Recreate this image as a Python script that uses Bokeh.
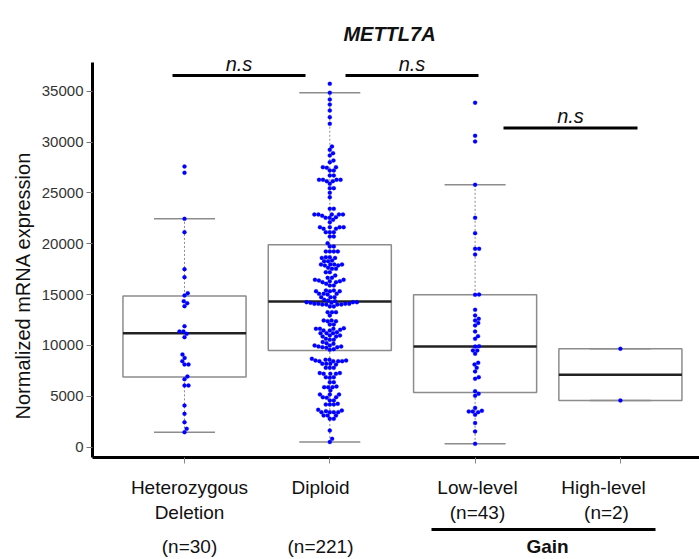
import numpy as np
from bokeh.plotting import figure
from bokeh.layouts import column
from bokeh.models import Range1d, FixedTicker, Title
from bokeh.core.properties import value
from bokeh.embed import file_html
from bokeh.resources import INLINE

# ---------------- data ----------------
group_pos = [1, 2, 3, 4]
label_line1 = ["Heterozygous", "Diploid", "Low-level", "High-level"]
label_line2 = ["Deletion", "", "(n=43)", "(n=2)"]
label_n_low = ["(n=30)", "(n=221)", "", ""]
title = "METTL7A"
y_label = "Normalized mRNA expression"
y_ticks = [0, 5000, 10000, 15000, 20000, 25000, 30000, 35000]

het = [27600, 26980, 22450, 21140, 17500, 16710, 15140, 14910, 14350, 14150,
       13860, 11890, 11370, 11370, 11140, 10810, 9100, 8770, 8450, 8120,
       8120, 6940, 6670, 6050, 6050, 4080, 3260, 2440, 1790, 1460]

dip = [35740, 34850, 34190, 33700, 33110, 32460, 31800, 29570, 29240, 28910,
       28680, 28190, 28030, 27540, 27470, 27540, 27210, 27210, 26720, 26720,
       26290, 26290, 26290, 26290, 26160, 26160, 25900, 25470, 25470, 25010,
       24580, 23440, 23440, 22880, 22880, 22880, 22880, 22880, 22750, 22550,
       22350, 22550, 22620, 22120, 21630, 21630, 21630, 21630, 21470, 21470,
       21140, 21140, 21140, 20710, 20710, 20060, 19730, 19730,
       19240, 19240, 19240, 19240, 18680, 18680, 18610, 18610, 18350, 18290,
       18290, 17960, 17960, 17960, 17960, 17860, 17860, 17530, 17530, 17630,
       17200, 17200, 16880,
       16650, 16450, 16380, 16320, 16220, 16060, 16220, 16320, 16450, 16650,
       15890, 15890, 15400, 15400, 15330, 15330, 15330, 15070, 15070, 15070,
       15010, 14740, 14740, 14740,
       14480, 14250, 14250, 14190, 14250, 14350, 14420, 14190,
       14090, 14090, 14090, 14090, 14020, 14020, 14020, 14020, 13830, 13830,
       13270, 13270, 13270, 12940, 12450, 12450, 12380, 12380, 12050, 12050,
       11630, 11530, 11460, 11460, 11630, 11630, 11690,
       11300, 11200, 11200, 11200, 10970, 10970, 10870, 10870, 10640, 10550,
       10550,
       10320, 10150, 9990, 9890, 9820, 9760, 9820, 9890, 9990, 10220,
       9630, 9560,
       8580, 8510, 8450, 8450, 8450, 8450, 8510, 8580, 8680,
       8180, 8120, 8180, 8180, 7790, 7790, 7790, 7270, 7200, 7200,
       7200, 7270, 6870, 6810, 6870, 6380, 6380, 5950, 5890, 5890,
       5890, 5560, 5170, 5170, 5170, 4840, 4900, 4900, 4580, 4580,
       4180, 4180, 4180, 4250,
       3660, 3430, 3430, 3430, 3430, 3530, 3590, 3100, 3100, 3100,
       2770, 2770, 1620, 800, 480]

low = [33870, 30620, 30060, 25800, 22550, 21040, 19500, 19500, 18940, 14970,
       15000, 13500, 12940, 12610, 12450, 12200, 11960, 11370, 10910, 10640,
       9920, 9890, 9500, 9500, 9170, 8280, 8120, 7790, 7430, 6870,
       6710, 5490, 5230, 5040, 3850, 3490, 3430, 3490, 3560, 3170,
       2350, 1530, 310]

high = [9660, 4580]

series = [het, dip, low, high]

# box statistics
box_q1 = [6890, 9500, 5360, 4580]
box_med = [11190, 14320, 9890, 7120]
box_q3 = [14870, 19900, 14970, 9660]
whisk_lo = [1440, 480, 310, 4580]
whisk_hi = [22450, 34850, 25800, 9660]

# ---------------- layout ----------------
W, H = 699, 559
FL, FR, FT, FB = 92, 699, 0, 457          # main frame edges (page px)
H1 = 469                                   # height of main figure
X0, X1 = 0.3668, 4.5444
Y0, YT = -1033, 43936
AXIS_TOP = 37835                           # where the drawn y axis ends
px_x = (FR - FL) / (X1 - X0)
px_y = (FB - FT) / (YT - Y0)
FONT = "Liberation Sans"
INK = "#111111"


def xdat(page_x):
    return X0 + (page_x - FL) / px_x


def ydat(page_y):
    return YT - (page_y - FT) / px_y


def swarm(vals, d=4.0):
    ys = np.asarray(vals, float) * px_y
    xs = np.zeros(len(ys))
    order = np.argsort(ys, kind="stable")
    placed = []
    for i in order:
        y = ys[i]
        near = [(xs[j], ys[j]) for j in placed if abs(ys[j] - y) < d]
        cands = [0.0]
        for xj, yj in near:
            dx = np.sqrt(max(d * d - (yj - y) ** 2, 0))
            cands += [xj + dx, xj - dx]
        cands.sort(key=lambda c: (round(abs(c), 6), -c))
        for c in cands:
            if all((c - xj) ** 2 + (yj - y) ** 2 >= d * d - 1e-6 for xj, yj in near):
                xs[i] = c
                break
        placed.append(i)
    return xs / px_x


xr = Range1d(X0, X1)
p = figure(width=W, height=H1, x_range=xr, y_range=Range1d(Y0, YT),
           output_backend="svg", toolbar_location=None,
           min_border_left=FL, min_border_right=W - FR,
           min_border_top=FT, min_border_bottom=H1 - FB)
p.outline_line_color = None
p.grid.visible = False

# axes
p.yaxis.bounds = (Y0, AXIS_TOP)
p.yaxis.ticker = FixedTicker(ticks=y_ticks)
p.yaxis.axis_line_width = 3
p.yaxis.axis_line_color = "black"
p.yaxis.major_tick_out = 6
p.yaxis.major_tick_in = 0
p.yaxis.minor_tick_out = 0
p.yaxis.minor_tick_in = 0
p.yaxis.major_tick_line_color = "#777777"
p.yaxis.major_label_text_font = FONT
p.yaxis.major_label_text_font_size = "15px"
p.yaxis.major_label_text_color = "#333333"
p.yaxis.major_label_standoff = 3

p.add_layout(Title(text=y_label, align="left", offset=38, text_font=FONT,
                   text_font_style="normal", text_font_size="20px",
                   text_color=INK, standoff=9), "left")

p.xaxis.ticker = FixedTicker(ticks=group_pos)
p.xaxis.axis_line_width = 3
p.xaxis.axis_line_color = "black"
p.xaxis.major_tick_out = 6
p.xaxis.major_tick_in = 0
p.xaxis.minor_tick_out = 0
p.xaxis.minor_tick_in = 0
p.xaxis.major_tick_line_color = "#888888"
p.xaxis.major_label_text_font_size = "0px"
p.xaxis.major_label_standoff = 0

BOX_W = 0.847
CAP_W = 0.42
GREY = "#8c8c8c"

pos = np.array(group_pos, float)
p.quad(left=pos - BOX_W / 2, right=pos + BOX_W / 2, bottom=box_q1, top=box_q3,
       fill_color=None, line_color=GREY, line_width=1.5)
p.segment(x0=pos, y0=box_q3, x1=pos, y1=whisk_hi, line_color=GREY, line_width=1,
          line_dash="2 2")
p.segment(x0=pos, y0=whisk_lo, x1=pos, y1=box_q1, line_color=GREY, line_width=1,
          line_dash="2 2")
p.segment(x0=pos - CAP_W / 2, y0=whisk_hi, x1=pos + CAP_W / 2, y1=whisk_hi,
          line_color=GREY, line_width=1.5)
p.segment(x0=pos - CAP_W / 2, y0=whisk_lo, x1=pos + CAP_W / 2, y1=whisk_lo,
          line_color=GREY, line_width=1.5)
p.segment(x0=pos - BOX_W / 2, y0=box_med, x1=pos + BOX_W / 2, y1=box_med,
          line_color="#222222", line_width=2.5)

xs_all, ys_all = [], []
for g, vals in zip(group_pos, series):
    off = swarm(vals)
    xs_all += list(g + off)
    ys_all += list(vals)
p.scatter(x=xs_all, y=ys_all, size=4, fill_color="#0000ff", line_color="#0000ff",
          line_width=0.3)

# significance brackets
brackets = [(xdat(172), xdat(305), 75),
            (xdat(345), xdat(478), 75),
            (xdat(503), xdat(637), 127.5)]
for xa, xb, yb in brackets:
    p.segment(x0=[xa], y0=[ydat(yb)], x1=[xb], y1=[ydat(yb)], line_color="black",
              line_width=3)
    p.text(x=[(xa + xb) / 2], y=[ydat(yb - 12)], text=["n.s"], text_font=value(FONT),
           text_font_style="italic", text_font_size="20px", text_align="center",
           text_baseline="middle", text_color=INK)

# title
p.text(x=[xdat(389)], y=[ydat(33)], text=[title], text_font=value(FONT),
       text_font_style="bold italic", text_font_size="20px", text_align="center",
       text_baseline="middle", text_color=INK)

# ---------------- category labels strip ----------------
q = figure(width=W, height=H - H1, x_range=xr, y_range=Range1d(H, H1),
           output_backend="svg", toolbar_location=None,
           x_axis_location=None, y_axis_location=None,
           min_border_left=FL, min_border_right=W - FR,
           min_border_top=0, min_border_bottom=0)
q.outline_line_color = None
q.grid.visible = False

label_x = [189, 320, 477, 603]
label_x2 = [189, 320, 477, 606]
for i in range(4):
    for txt, xx, yy in ((label_line1[i], label_x[i], 487),
                        (label_line2[i], label_x2[i], 512),
                        (label_n_low[i], label_x[i], 546)):
        if txt:
            q.text(x=[xdat(xx)], y=[yy], text=[txt], text_font=value(FONT),
                   text_font_size="19px", text_align="center",
                   text_baseline="middle", text_color=INK)

q.segment(x0=[xdat(431)], y0=[529], x1=[xdat(655)], y1=[529], line_color="black",
          line_width=3)
q.text(x=[xdat(547)], y=[546], text=["Gain"], text_font=value(FONT),
       text_font_style="bold", text_font_size="19px", text_align="center",
       text_baseline="middle", text_color=INK)

layout = column(p, q, spacing=0)
open("out.html", "w").write(file_html(layout, INLINE))
